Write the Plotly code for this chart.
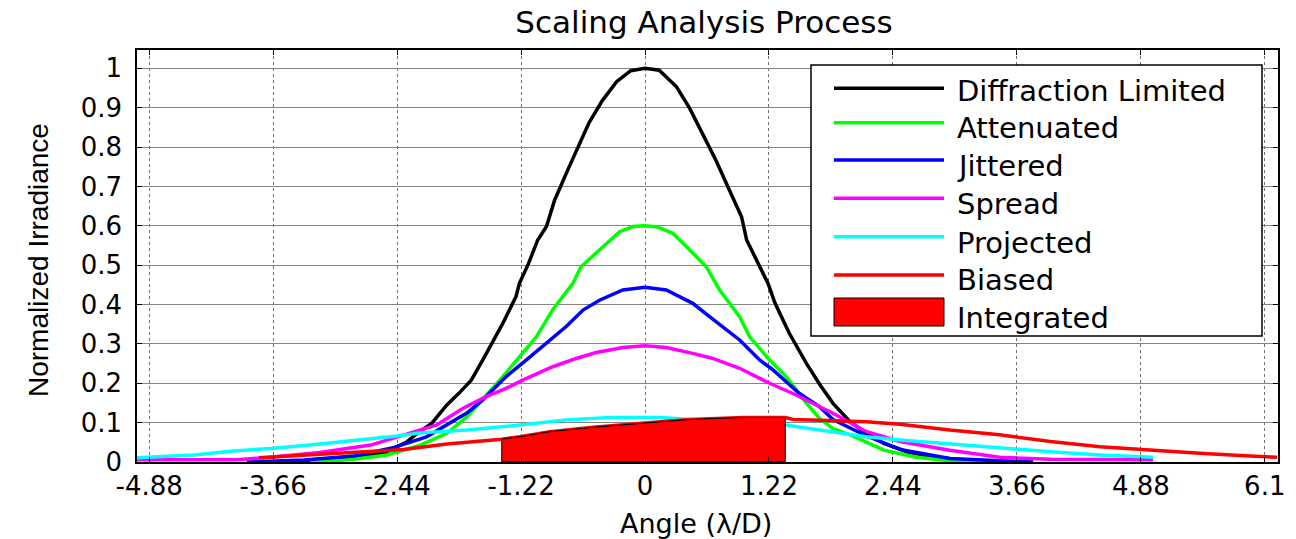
import plotly.graph_objects as go

# ---------------- data ----------------
x_tick_vals = [-4.88, -3.66, -2.44, -1.22, 0, 1.22, 2.44, 3.66, 4.88, 6.1]
x_tick_text = ["-4.88", "-3.66", "-2.44", "-1.22", "0", "1.22", "2.44", "3.66", "4.88", "6.1"]
y_tick_vals = [0, 0.1, 0.2, 0.3, 0.4, 0.5, 0.6, 0.7, 0.8, 0.9, 1.0]
y_tick_text = ["0", "0.1", "0.2", "0.3", "0.4", "0.5", "0.6", "0.7", "0.8", "0.9", "1"]

diff_x = [-3.5, -3.1, -2.8, -2.55, -2.35, -2.22, -2.1, -1.95, -1.83, -1.71, -1.58, -1.40, -1.27, -1.236,
          -1.15, -1.056, -0.97, -0.89, -0.76, -0.66, -0.55, -0.42, -0.28, -0.14, 0, 0.14, 0.31, 0.44,
          0.60, 0.70, 0.80, 0.95, 1.0, 1.1, 1.21, 1.28, 1.42, 1.59, 1.72, 1.85, 2.02, 2.18, 2.35, 2.58,
          2.85, 3.2, 3.5]
diff_y = [0.0, 0.004, 0.012, 0.025, 0.05, 0.077, 0.098, 0.145, 0.175, 0.208, 0.267, 0.352, 0.42, 0.454,
          0.502, 0.564, 0.598, 0.665, 0.742, 0.80, 0.862, 0.918, 0.966, 0.994, 1.0, 0.995, 0.953, 0.898,
          0.818, 0.765, 0.708, 0.623, 0.564, 0.51, 0.454, 0.403, 0.327, 0.25, 0.197, 0.149, 0.102, 0.073,
          0.047, 0.026, 0.012, 0.004, 0.0]

att_x = [-3.3, -3.16, -2.87, -2.54, -2.21, -1.95, -1.75, -1.63, -1.40, -1.236, -1.07, -0.91, -0.71, -0.63,
         -0.448, -0.25, -0.12, 0, 0.12, 0.274, 0.438, 0.603, 0.734, 0.931, 1.03, 1.227, 1.39, 1.59, 1.72,
         1.85, 2.02, 2.35, 2.67, 3.0, 3.33]
att_y = [0.0, 0.001, 0.007, 0.018, 0.043, 0.073, 0.115, 0.149, 0.217, 0.267, 0.318, 0.386, 0.454, 0.496,
         0.539, 0.585, 0.598, 0.60, 0.597, 0.581, 0.539, 0.496, 0.437, 0.369, 0.318, 0.259, 0.217, 0.149,
         0.11, 0.085, 0.069, 0.030, 0.012, 0.003, 0.0]

jit_x = [-3.92, -3.36, -2.87, -2.47, -2.15, -1.75, -1.60, -1.367, -1.17, -0.973, -0.776, -0.61, -0.448,
         -0.218, 0, 0.209, 0.47, 0.635, 0.931, 1.128, 1.26, 1.52, 1.72, 1.85, 2.18, 2.51, 3.0, 3.33, 3.82]
jit_y = [0.0, 0.005, 0.015, 0.037, 0.064, 0.125, 0.157, 0.217, 0.259, 0.301, 0.344, 0.386, 0.411,
         0.437, 0.444, 0.437, 0.403, 0.369, 0.31, 0.259, 0.234, 0.174, 0.14, 0.108, 0.066, 0.032, 0.009,
         0.005, 0.0]

spr_x = [-5.0, -4.02, -3.69, -3.2, -2.70, -2.375, -2.05, -1.795, -1.564, -1.367, -1.204, -0.908, -0.678,
         -0.48, -0.218, 0, 0.209, 0.47, 0.668, 0.931, 1.227, 1.456, 1.75, 1.85, 2.18, 2.51, 3.0, 3.49,
         3.99, 5.0]
spr_y = [0.006, 0.006, 0.012, 0.024, 0.043, 0.069, 0.094, 0.136, 0.166, 0.187, 0.208, 0.242, 0.263,
         0.278, 0.291, 0.295, 0.291, 0.276, 0.263, 0.238, 0.20, 0.174, 0.136, 0.124, 0.077, 0.052, 0.030,
         0.012, 0.007, 0.006]

proj_x = [-5.0, -4.44, -4.05, -3.65, -3.20, -2.70, -2.44, -2.21, -1.75, -1.23, -0.77, -0.34, 0.15, 0.44,
          0.9, 1.39, 1.53, 1.85, 2.18, 2.51, 3.0, 3.49, 3.99, 4.48, 5.0]
proj_y = [0.011, 0.018, 0.028, 0.035, 0.046, 0.058, 0.066, 0.074, 0.081, 0.094, 0.107, 0.113, 0.113,
          0.108, 0.102, 0.094, 0.088, 0.077, 0.064, 0.056, 0.046, 0.035, 0.026, 0.018, 0.012]

bias_x = [-3.80, -3.36, -2.87, -2.375, -1.95, -1.66, -1.41, -1.23, -0.935, -0.51, -0.18, 0.148, 0.443,
          0.97, 1.38, 1.46, 1.72, 2.18, 2.51, 3.0, 3.49, 3.99, 4.48, 4.97, 5.46, 5.95, 6.22]
bias_y = [0.011, 0.018, 0.026, 0.032, 0.046, 0.052, 0.058, 0.064, 0.077, 0.088, 0.096, 0.102, 0.108,
          0.113, 0.113, 0.108, 0.106, 0.102, 0.096, 0.081, 0.069, 0.052, 0.039, 0.030, 0.022, 0.015, 0.012]

int_x = [-1.41, -1.23, -0.935, -0.51, -0.18, 0.148, 0.443, 0.97, 1.38]
int_y = [0.058, 0.064, 0.077, 0.088, 0.096, 0.102, 0.108, 0.113, 0.113]

names = ["Diffraction Limited", "Attenuated", "Jittered", "Spread", "Projected", "Biased", "Integrated"]
colors = ["#000000", "#00ff00", "#0000ff", "#ff00ff", "#00ffff", "#ff0000", "#ff0000"]

# ---------------- figure ----------------
W, H = 1296, 539
L, R, T, B = 137, 1278, 50, 462
FONT = "DejaVu Sans"


def pxx(xp):
    return (xp - L) / (R - L)


def pxy(yp):
    return (B - yp) / (B - T)


fig = go.Figure()
line_series = [(diff_x, diff_y), (att_x, att_y), (jit_x, jit_y), (spr_x, spr_y),
               (proj_x, proj_y), (bias_x, bias_y)]
for (xs, ys), nm, col in zip(line_series, names[:6], colors[:6]):
    fig.add_trace(go.Scatter(x=xs, y=ys, mode="lines", name=nm,
                             line=dict(color=col, width=3.5), showlegend=False))

poly_x = [int_x[0]] + int_x + [int_x[-1], int_x[0]]
poly_y = [0] + int_y + [0, 0]
fig.add_trace(go.Scatter(x=poly_x, y=poly_y, mode="lines", name=names[6], fill="toself",
                         fillcolor=colors[6], line=dict(color="#000000", width=1),
                         showlegend=False))

axis_common = dict(showline=True, linecolor="black", linewidth=1.5, mirror="ticks",
                   ticks="inside", ticklen=5, tickcolor="black", tickwidth=1,
                   tickfont=dict(family=FONT, size=26, color="black"), zeroline=False)

fig.update_xaxes(range=[-5.0, 6.23], tickvals=x_tick_vals, ticktext=x_tick_text,
                 showgrid=True, gridcolor="#6e6e6e", griddash="dot", gridwidth=1,
                 ticklabelstandoff=0, **axis_common)
fig.update_yaxes(range=[0, 1.0465], tickvals=y_tick_vals, ticktext=y_tick_text,
                 showgrid=True, gridcolor="#848484", gridwidth=1,
                 ticklabelstandoff=8, **axis_common)

shapes = []
annotations = []
# legend box
shapes.append(dict(type="rect", xref="paper", yref="paper", x0=pxx(811), x1=pxx(1262),
                   y0=pxy(336), y1=pxy(65), line=dict(color="black", width=1.5),
                   fillcolor="white", layer="above"))
line_ys = [88.3, 122.7, 160.0, 198.3, 236.7, 275.0]
text_ys = [90.7, 128.3, 166.0, 204.3, 242.7, 280.0, 318.3]
for i in range(6):
    shapes.append(dict(type="line", xref="paper", yref="paper", x0=pxx(834), x1=pxx(944),
                       y0=pxy(line_ys[i]), y1=pxy(line_ys[i]),
                       line=dict(color=colors[i], width=3.5), layer="above"))
shapes.append(dict(type="rect", xref="paper", yref="paper", x0=pxx(834), x1=pxx(944),
                   y0=pxy(326), y1=pxy(298), line=dict(color="black", width=1),
                   fillcolor=colors[6], layer="above"))
for i, nm in enumerate(names):
    annotations.append(dict(text=nm, xref="paper", yref="paper", x=pxx(955), y=pxy(text_ys[i]),
                            xanchor="left", yanchor="middle", showarrow=False,
                            font=dict(family=FONT, size=29, color="black")))

# axis titles
annotations.append(dict(text="Angle (λ/D)", xref="paper", yref="paper", x=pxx(696), y=pxy(523),
                        xanchor="center", yanchor="middle", showarrow=False,
                        font=dict(family=FONT, size=27, color="black")))
annotations.append(dict(text="Normalized Irradiance", xref="paper", yref="paper", x=pxx(38),
                        y=pxy(260), xanchor="center", yanchor="middle", showarrow=False,
                        textangle=-90, font=dict(family="Liberation Sans", size=28, color="black")))

fig.update_layout(
    width=W, height=H,
    margin=dict(l=L, r=W - R, t=T, b=H - B, pad=0),
    paper_bgcolor="white", plot_bgcolor="white",
    title=dict(text="Scaling Analysis Process", x=pxx(704), xanchor="center", xref="paper",
               y=1 - 22 / H, yref="container", yanchor="middle",
               font=dict(family=FONT, size=31, color="black")),
    shapes=shapes, annotations=annotations, showlegend=False,
)

fig.write_html("out.html")
